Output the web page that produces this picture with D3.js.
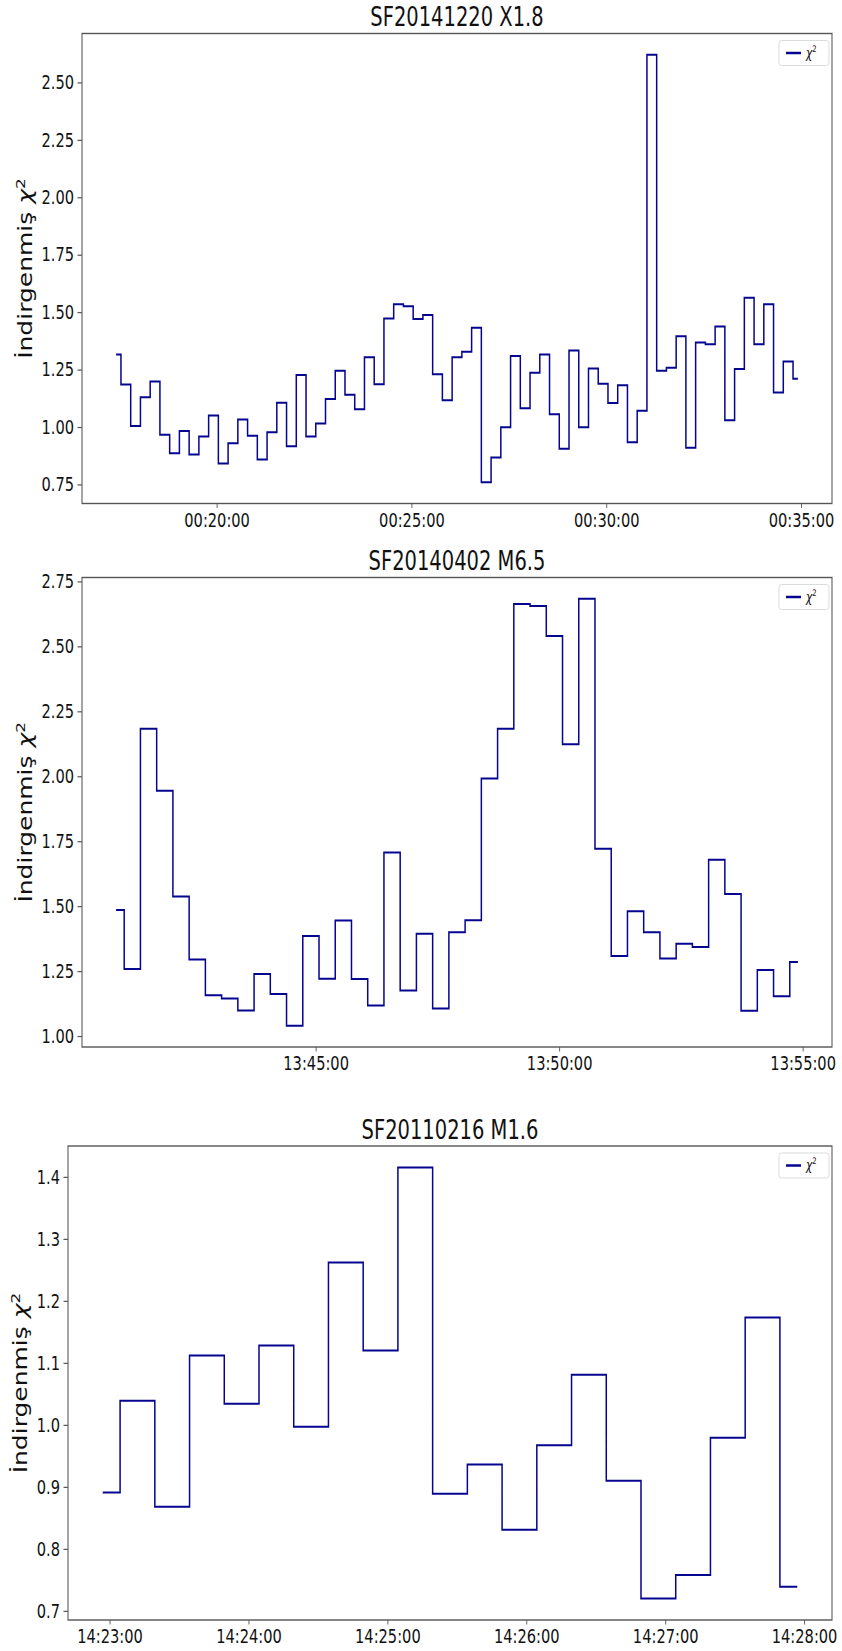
<!DOCTYPE html>
<html>
<head>
<meta charset="utf-8">
<script src="https://cdn.jsdelivr.net/npm/d3@7"></script>
<style>
  body { margin: 0; background: #fff; }
  text { font-family: "DejaVu Sans", sans-serif; fill: #111; }
</style>
</head>
<body>
<svg id="fig" width="842" height="1651"></svg>
<script>
// Reduced chi-square time series for three solar flares

const titles = ["SF20141220 X1.8", "SF20140402 M6.5", "SF20110216 M1.6"];

// first sample time and cadence (seconds) of each series
const starts = ["00:17:25", "13:40:54", "14:22:57"];
const cadence = [15, 20, 15];

const chi1 = [1.316,1.185,1.004,1.13,1.198,0.966,0.886,0.983,0.88,0.959,
  1.05,0.841,0.929,1.033,0.962,0.859,0.977,1.106,0.916,1.226,
  0.959,1.015,1.122,1.245,1.14,1.077,1.304,1.186,1.472,1.534,
  1.526,1.47,1.488,1.23,1.116,1.304,1.328,1.432,0.76,0.867,
  0.999,1.309,1.082,1.236,1.316,1.055,0.905,1.333,0.999,1.255,
  1.188,1.105,1.182,0.934,1.071,2.62,1.245,1.258,1.395,0.91,
  1.368,1.36,1.437,1.029,1.252,1.563,1.36,1.534,1.15,1.285,
  1.21];

const chi2 = [1.485,1.258,2.183,1.944,1.537,1.295,1.157,1.145,1.098,1.239,
  1.162,1.040,1.385,1.221,1.445,1.22,1.118,1.707,1.175,1.394,
  1.106,1.40,1.446,1.991,2.183,2.663,2.655,2.54,2.123,2.683,
  1.721,1.308,1.48,1.40,1.299,1.355,1.343,1.679,1.547,1.097,
  1.254,1.153,1.285];

const chi3 = [0.891,1.039,0.868,1.112,1.034,1.128,0.997,1.262,1.12,1.415,
  0.889,0.936,0.831,0.967,1.081,0.91,0.72,0.758,0.979,1.173,
  0.739];

const xTicks1 = ["00:20:00", "00:25:00", "00:30:00", "00:35:00"];
const xTicks2 = ["13:45:00", "13:50:00", "13:55:00"];
const xTicks3 = ["14:23:00", "14:24:00", "14:25:00", "14:26:00", "14:27:00", "14:28:00"];

const yTicks1 = [0.75, 1.00, 1.25, 1.50, 1.75, 2.00, 2.25, 2.50];
const yTicks2 = [1.00, 1.25, 1.50, 1.75, 2.00, 2.25, 2.50, 2.75];
const yTicks3 = [0.7, 0.8, 0.9, 1.0, 1.1, 1.2, 1.3, 1.4];

// ---------------------------------------------------------------
const SX = 0.75;              // horizontal squeeze of the whole figure
const LINE = "#05058f";
const SPINE = "#555";
const parseT = d3.utcParse("%H:%M:%S");

const svg = d3.select("#fig");
const root = svg.append("g").attr("transform", `scale(${SX},1)`);

function panel(cfg) {
  const { title, start, step, values, xTicks, yTicks, yDigits, box, labelX } = cfg;
  const L = box.left / SX, R = box.right / SX, T = box.top, B = box.bottom;
  const t0 = parseT(start).getTime();
  const pts = values.map((v, i) => ({ t: new Date(t0 + i * step * 1000), v }));

  // autoscaled domains with 5% padding
  const tExt = d3.extent(pts, d => d.t.getTime());
  const tPad = (tExt[1] - tExt[0]) * 0.05;
  const vExt = d3.extent(values);
  const vPad = (vExt[1] - vExt[0]) * 0.05;

  const x = d3.scaleUtc().domain([new Date(tExt[0] - tPad), new Date(tExt[1] + tPad)]).range([L, R]);
  const y = d3.scaleLinear().domain([vExt[0] - vPad, vExt[1] + vPad]).range([B, T]);

  const g = root.append("g");

  // step line (midpoint steps)
  const line = d3.line().x(d => x(d.t)).y(d => y(d.v)).curve(d3.curveStep);
  g.append("path").datum(pts)
    .attr("d", line)
    .attr("fill", "none")
    .attr("stroke", LINE)
    .attr("stroke-width", 2)
    .attr("stroke-linejoin", "miter");

  // axes
  const tickLen = 4.5;
  const yAxis = d3.axisLeft(y).tickValues(yTicks)
    .tickSize(tickLen / SX).tickPadding(3.5 / SX)
    .tickFormat(d3.format(`.${yDigits}f`));
  const ya = g.append("g").attr("transform", `translate(${L},0)`).call(yAxis);

  const xAxis = d3.axisBottom(x).tickValues(xTicks.map(parseT))
    .tickSize(tickLen).tickPadding(5)
    .tickFormat(d3.utcFormat("%H:%M:%S"));
  const xa = g.append("g").attr("transform", `translate(0,${B})`).call(xAxis);

  [ya, xa].forEach(a => {
    a.select(".domain").remove();
    a.selectAll(".tick line").attr("stroke", SPINE).attr("stroke-width", 1.2);
    a.selectAll(".tick text")
      .attr("font-family", "DejaVu Sans")
      .attr("font-size", 19.5)
      .attr("fill", "#111");
  });

  // frame
  g.append("rect")
    .attr("x", L).attr("y", T)
    .attr("width", R - L).attr("height", B - T)
    .attr("fill", "none")
    .attr("stroke", SPINE)
    .attr("stroke-width", 1.4);

  // title
  g.append("text")
    .attr("x", (L + R) / 2).attr("y", T - 7)
    .attr("text-anchor", "middle")
    .attr("font-size", 26)
    .text(title);

  // y label
  const yl = g.append("text")
    .attr("transform", `translate(${labelX / SX},${(T + B) / 2}) rotate(-90)`)
    .attr("text-anchor", "middle")
    .attr("font-size", 25);
  yl.append("tspan").text("İndirgenmiş ");
  yl.append("tspan").attr("font-style", "italic").text("χ");
  yl.append("tspan").attr("font-size", 17).attr("dy", -10).text("2");

  // legend
  const lgW = 50, lgH = 25;
  const lgX = (box.right - 3 - lgW) / SX, lgY = T + 7;
  const lg = g.append("g");
  lg.append("rect")
    .attr("x", lgX).attr("y", lgY)
    .attr("width", lgW / SX).attr("height", lgH)
    .attr("rx", 3).attr("fill", "#fff")
    .attr("stroke", "#d6d6d6").attr("stroke-width", 1);
  lg.append("line")
    .attr("x1", lgX + 7 / SX).attr("x2", lgX + 22 / SX)
    .attr("y1", lgY + lgH / 2).attr("y2", lgY + lgH / 2)
    .attr("stroke", LINE).attr("stroke-width", 2.5);
  const lt = lg.append("text")
    .attr("x", lgX + 27 / SX).attr("y", lgY + lgH / 2 + 5)
    .attr("font-size", 14);
  lt.append("tspan").attr("font-style", "italic").text("χ");
  lt.append("tspan").attr("font-size", 9).attr("dy", -6).text("2");
}

panel({ title: titles[0], start: starts[0], step: cadence[0], values: chi1,
  xTicks: xTicks1, yTicks: yTicks1, yDigits: 2,
  box: { left: 82, right: 832, top: 33.5, bottom: 503.5 }, labelX: 32 });

panel({ title: titles[1], start: starts[1], step: cadence[1], values: chi2,
  xTicks: xTicks2, yTicks: yTicks2, yDigits: 2,
  box: { left: 82, right: 832, top: 577.5, bottom: 1047 }, labelX: 32 });

panel({ title: titles[2], start: starts[2], step: cadence[2], values: chi3,
  xTicks: xTicks3, yTicks: yTicks3, yDigits: 1,
  box: { left: 68, right: 832, top: 1146, bottom: 1620 }, labelX: 27 });
</script>
</body>
</html>
